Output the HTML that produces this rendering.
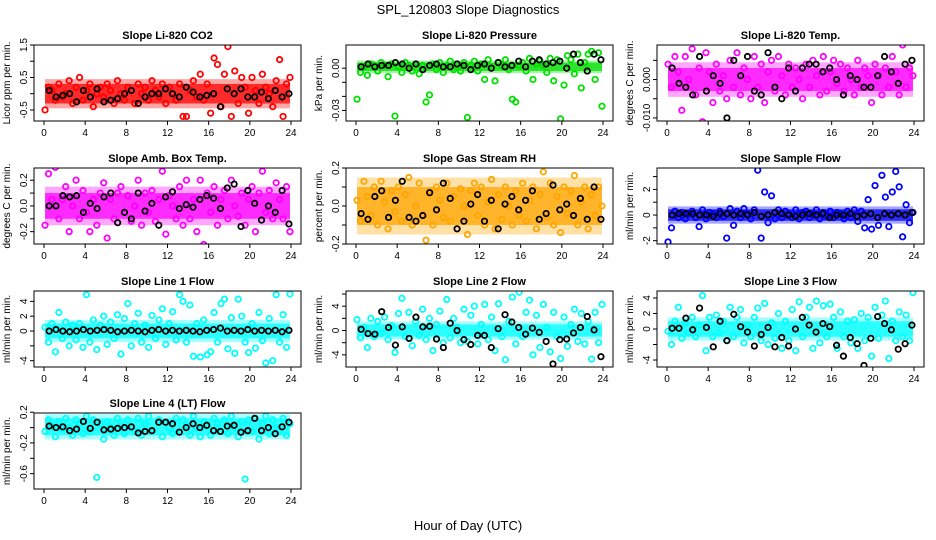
<!DOCTYPE html>
<html><head><meta charset="utf-8"><style>
body{margin:0;background:#fff;}
svg{display:block;font-family:"Liberation Sans",sans-serif;}
</style></head><body>
<svg id="c" width="936" height="540" viewBox="0 0 936 540" xmlns="http://www.w3.org/2000/svg">
<rect width="936" height="540" fill="#fff"/>
<text x="468" y="14" text-anchor="middle" font-size="13">SPL_120803  Slope Diagnostics</text>
<text x="468" y="530" text-anchor="middle" font-size="13">Hour of Day (UTC)</text>
</svg>
<script>
const xTicks = [0,4,8,12,16,20,24];
const titles = ["Slope Li-820 CO2","Slope Li-820 Pressure","Slope Li-820 Temp.","Slope Amb. Box Temp.","Slope Gas Stream RH","Slope Sample Flow","Slope Line 1 Flow","Slope Line 2 Flow","Slope Line 3 Flow","Slope Line 4 (LT) Flow"];
const yTitles = ["Licor ppm per min.","kPa per min.","degrees C per min.","degrees C per min.","percent per min.","ml/min per min.","ml/min per min.","ml/min per min.","ml/min per min.","ml/min per min."];
const yRanges = [[-0.84,1.5],[-0.0375,0.0165],[-0.0108,0.009],[-0.296,0.295],[-0.2,0.2],[-2.26,3.67],[-4.85,5.4],[-6,6.5],[-4.9,4.9],[-0.8,0.19]];
const yTickVals = [[-0.5,0,0.5,1,1.5],[-0.03,-0.02,-0.01,0],[-0.01,-0.005,0,0.005],[-0.2,-0.1,0,0.1,0.2],[-0.2,-0.1,0,0.1,0.2],[-2,-1,0,1,2,3],[-4,-2,0,2,4],[-4,-2,0,2,4,6],[-4,-2,0,2,4],[-0.6,-0.4,-0.2,0,0.2]];
const yTickLabels = [["-0.5","","0.5","","1.5"],["-0.03","","","0.00"],["-0.010","","0.000",""],["-0.2","","0.0","","0.2"],["-0.2","","0.0","","0.2"],["-2","","0","","2",""],["-4","","0","2","4"],["-4","","0","","4",""],["-4","","0","2","4"],["-0.6","","-0.2","","0.2"]];
const bands = [[-0.3,0.3],[-0.002,0.004],[-0.003,0.003],[-0.1,0.1],[-0.1,0.1],[-0.45,0.45],[-1,1],[-1,1],[-1,1],[-0.1,0.12]];
const colors = ["#ff0000","#00e000","#ff00ff","#ff00ff","#ffa500","#0000ff","#00ffff","#00ffff","#00ffff","#00ffff"];

const s1 = [-0.5,0.2,0.1,-0.2,0.3,-0.1,0.0,0.4,-0.3,0.2,0.5,-0.2,0.1,0.3,-0.4,0.0,0.2,-0.1,0.3,0.1,-0.3,0.4,0.0,-0.2,0.2,0.1,-0.3,0.3,0.0,0.2,-0.2,0.4,0.1,-0.1,0.3,-0.3,0.2,0.0,-0.2,0.3,-0.7,-0.7,0.1,0.4,-0.1,0.6,-0.2,0.3,-0.6,1.1,0.9,-0.4,0.6,1.45,-0.7,0.7,-0.3,0.5,0.2,-0.6,0.5,0.1,-0.3,0.6,0.2,0.0,-0.4,0.4,1.05,-0.7,0.3,0.5];
const k1 = [0.1,-0.1,-0.05,0.0,-0.25,0.1,-0.1,0.15,-0.25,-0.2,-0.15,0.0,0.1,-0.3,-0.1,0.0,0.0,0.15,0.0,-0.1,0.2,0.05,-0.1,-0.05,0.0,-0.4,0.15,0.0,0.15,-0.1,-0.1,0.05,-0.15,0.1,-0.1,0.0];
const s2 = [-0.022,-0.003,0.001,-0.005,0.003,0.002,-0.002,0.004,0.002,-0.006,0.003,-0.034,0.001,-0.003,0.004,0.002,-0.002,0.003,-0.004,0.002,-0.024,-0.019,0.003,-0.001,0.004,-0.003,0.002,0.005,-0.001,0.003,-0.002,0.004,-0.035,0.002,0.005,-0.002,0.003,-0.008,0.006,0.001,-0.009,0.004,0.002,0.006,-0.001,-0.022,-0.024,0.002,0.004,-0.002,0.007,-0.008,0.003,0.005,0.002,-0.003,0.007,-0.009,0.006,-0.036,-0.012,0.009,0.006,-0.004,0.010,-0.014,0.004,0.010,0.012,-0.008,0.011,-0.027];
const k2 = [0.001,0.003,0.001,0.002,0.002,0.004,0.003,0.000,0.003,-0.001,0.002,0.003,0.001,0.001,0.003,0.002,-0.001,0.002,0.003,0.000,0.004,0.001,0.002,0.005,0.001,0.005,0.006,0.003,0.004,0.005,0.000,0.010,0.004,-0.002,0.010,0.006];
const s3 = [0.004,-0.002,0.006,0.002,-0.008,0.006,0.000,0.008,-0.004,0.003,-0.011,0.007,0.002,-0.006,0.004,-0.003,0.001,-0.005,0.005,-0.002,0.007,-0.004,0.003,0.000,-0.005,0.006,-0.002,0.004,-0.006,0.002,0.005,-0.003,0.006,0.001,-0.004,0.004,-0.002,0.003,0.000,-0.005,0.004,-0.002,0.005,0.001,-0.004,0.006,-0.003,0.002,0.005,-0.001,0.004,-0.003,0.003,0.000,-0.004,0.005,-0.002,0.003,0.001,-0.006,0.004,0.001,-0.004,0.003,-0.002,0.006,0.002,-0.004,0.009,-0.002,0.003,0.001];
const k3 = [0.003,-0.001,-0.002,-0.004,0.006,-0.003,0.001,-0.001,-0.010,0.005,0.001,0.006,-0.003,-0.004,0.007,-0.002,-0.005,0.003,-0.003,0.003,0.004,0.004,0.002,0.003,0.000,-0.004,0.001,0.000,-0.002,-0.002,0.001,0.006,0.002,-0.001,0.004,0.005];
const s4 = [-0.15,0.25,0.05,0.3,-0.1,0.05,0.15,-0.2,0.0,0.2,-0.1,0.12,-0.05,-0.2,0.05,-0.15,0.1,0.18,-0.25,0.05,-0.1,0.1,0.15,-0.05,0.08,-0.12,0.0,0.2,-0.15,0.1,-0.05,0.12,-0.12,0.05,0.27,-0.22,0.08,0.0,-0.1,0.15,-0.15,0.2,-0.1,0.05,-0.2,0.2,-0.3,0.1,-0.05,0.15,-0.15,0.05,0.12,-0.1,0.2,0.0,-0.08,0.1,-0.15,0.05,0.15,-0.2,0.1,0.27,-0.05,0.12,-0.1,0.18,0.05,-0.1,0.15,-0.2];
const k4 = [0.0,0.0,0.08,0.07,0.08,-0.05,0.02,-0.02,0.07,0.1,-0.13,-0.05,-0.1,0.1,-0.04,0.02,-0.15,0.07,0.11,-0.02,0.01,-0.01,0.05,0.08,0.06,-0.02,0.14,0.17,-0.16,0.12,0.02,-0.11,0.0,-0.05,0.12,-0.14];
const s5 = [0.03,-0.08,0.13,0.05,-0.05,0.1,-0.1,0.13,0.02,-0.12,0.08,-0.03,0.1,-0.08,0.06,0.15,-0.1,0.0,0.12,-0.05,-0.18,0.08,-0.1,0.1,0.03,-0.06,0.12,-0.08,0.05,-0.12,0.09,0.0,-0.15,0.08,0.12,-0.05,0.1,-0.1,0.02,0.14,-0.12,0.06,-0.07,0.1,0.0,-0.1,0.08,-0.05,0.12,-0.08,0.03,0.1,-0.12,0.06,0.18,-0.06,0.12,-0.1,0.05,-0.14,0.1,-0.04,0.08,0.16,-0.1,0.02,0.1,-0.12,0.06,-0.05,0.1,0.0];
const k5 = [-0.04,-0.07,0.05,0.08,-0.06,0.03,0.13,-0.06,-0.08,-0.05,0.07,-0.02,0.12,0.04,-0.12,-0.08,0.01,0.06,-0.08,0.03,-0.12,0.01,0.05,-0.02,0.03,0.08,-0.07,-0.04,0.11,-0.02,0.01,-0.05,0.04,-0.07,0.1,-0.07];
const s6 = [-2.1,-1.0,0.3,-0.2,0.2,-0.3,0.1,0.3,-0.2,-0.9,0.4,-0.3,0.2,0.1,-0.2,0.3,-0.1,-1.8,0.5,-0.8,0.3,-0.2,0.5,0.1,-0.3,0.4,3.5,-1.8,1.8,-0.6,1.5,-0.3,0.4,-0.2,0.3,0.1,-0.2,0.4,-0.3,0.2,0.3,-0.2,0.1,0.4,-0.3,0.2,-0.1,0.3,-0.2,0.2,0.1,-0.3,0.3,-0.2,0.4,-0.5,0.3,-1.0,1.2,-1.1,2.3,-0.8,3.1,1.4,-0.9,1.8,3.4,2.2,-1.7,0.8,-0.6,0.2];
const k6 = [0.0,0.1,0.1,0.1,0.0,0.0,-0.1,0.1,0.1,0.0,0.1,0.0,0.2,-0.1,0.0,0.2,0.1,0.0,-0.1,0.0,0.1,0.0,0.1,-0.2,0.0,0.0,0.1,-0.1,0.0,0.1,-0.2,0.1,0.0,0.1,0.0,0.2];
const s7 = [0.5,-1.5,1.0,-2.8,2.5,-1.0,1.2,-2.0,0.8,-1.2,1.0,-2.2,4.9,-1.5,1.5,-2.5,0.8,2.0,-1.8,1.2,-1.0,2.2,-3.1,1.7,3.7,-2.0,1.0,2.4,-1.5,0.8,-2.2,2.1,-1.0,1.5,3.0,-1.8,1.0,2.6,-1.2,4.9,4.0,-1.5,3.5,-3.4,1.0,-3.5,1.5,-3.2,-2.8,2.5,-1.5,3.7,4.3,-2.4,1.8,-3.0,4.3,2.0,-1.5,-2.9,1.0,-2.3,2.5,-1.3,-4.3,1.7,-4.0,4.9,-1.5,2.2,-2.2,5.0];
const k7 = [0.0,0.2,0.0,-0.1,0.0,0.2,0.0,0.1,0.2,0.1,-0.1,0.0,0.1,0.0,-0.1,0.1,0.2,0.0,0.1,0.0,0.1,0.0,-0.1,0.1,0.2,0.4,0.0,0.1,0.0,0.2,0.0,0.1,0.0,0.1,-0.1,0.1];
const k8 = [0.2,-0.5,-0.6,3.1,0.5,-2.4,0.6,-1.3,2.2,0.6,0.7,-1.4,-2.8,1.2,0.0,-1.5,-2.3,-0.8,-0.8,-2.8,0.3,2.6,1.4,0.5,-0.6,0.4,-0.3,-1.8,-5.5,-1.5,-1.4,-0.4,0.5,2.3,0.1,-4.3];
const s8 = [1.8,-1.2,0.5,-2.8,2.0,-1.0,1.5,-0.5,2.2,-1.5,0.8,-3.6,2.8,5.3,-1.0,3.0,-2.5,1.5,-0.8,3.5,-1.5,2.0,-3.3,1.0,3.2,-2.0,5.1,-1.2,2.0,0.5,-2.0,3.5,-1.8,2.5,4.0,-2.2,1.0,4.3,-1.5,2.2,-3.3,4.4,-1.0,-4.8,1.5,5.5,-2.2,6.3,-1.0,3.0,5.0,-4.0,2.5,-2.8,4.3,0.5,-3.5,3.0,-1.0,-4.6,2.2,-2.6,1.0,3.5,-1.8,2.8,-2.2,1.5,-4.7,3.0,-2.0,4.3];
const s9 = [-0.3,-2.0,1.0,2.8,-1.2,0.8,-0.5,1.5,-1.0,0.5,4.3,-2.8,1.5,-1.0,1.8,-0.5,1.0,-1.5,2.8,-1.0,1.5,2.5,-1.8,0.5,-1.0,1.5,2.7,-1.5,3.3,-2.0,0.8,-1.2,2.0,-2.5,1.0,-1.5,2.5,-2.8,3.5,-1.0,1.5,2.8,-2.5,3.6,-1.8,3.0,-1.0,3.2,1.5,-2.5,2.2,-1.0,1.0,-1.8,1.2,-2.5,2.0,-1.5,1.5,-3.5,2.8,-1.2,1.8,3.6,-3.8,1.0,-1.5,2.2,-1.0,1.8,-1.5,4.7];
const k9 = [0.1,0.1,1.4,-0.1,2.7,0.2,-2.3,1.0,-1.5,1.9,0.3,-0.4,-2.2,-0.7,0.2,-2.3,-1.1,-2.2,0.0,1.5,0.5,-0.4,0.7,0.3,-2.1,-3.5,-1.1,-1.9,-4.7,-1.2,1.6,0.7,-0.1,-2.6,-1.9,0.5];
const s10 = [-0.05,0.1,0.02,-0.12,0.08,-0.02,0.12,0.0,-0.1,0.1,0.05,-0.08,0.15,-0.05,0.1,-0.65,0.05,-0.15,0.08,0.0,-0.1,0.12,0.03,-0.08,0.1,0.0,-0.05,0.12,-0.1,0.05,0.15,-0.05,-0.85,0.1,-0.12,0.06,0.0,-0.08,0.12,-0.05,0.1,0.03,-0.1,0.15,0.0,-0.12,0.08,0.02,-0.1,0.12,0.05,-0.05,0.1,-0.08,0.15,0.0,-0.12,0.08,-0.67,0.1,-0.05,0.12,-0.15,0.05,0.15,-0.08,0.1,0.0,-0.05,0.12,-0.1,0.05];
const k10 = [0.02,0.0,0.01,-0.04,-0.02,0.08,-0.01,0.07,-0.03,-0.02,-0.01,0.0,0.01,-0.07,-0.05,-0.04,0.07,0.07,0.05,-0.06,0.0,0.05,0.0,0.03,-0.04,-0.05,0.02,0.03,-0.06,-0.04,0.12,-0.04,0.0,-0.08,0.01,0.07];
const seriesColored = [s1,s2,s3,s4,s5,s6,s7,s8,s9,s10];
const seriesBlack = [k1,k2,k3,k4,k5,k6,k7,k8,k9,k10];

const NS = "http://www.w3.org/2000/svg";
const svg = document.getElementById('c');
const colLeft = [34,346,657], rowTop = [45,168,291,413], W = 267, H = 76;
function mk(tag, attrs, parent){const e=document.createElementNS(NS,tag);for(const k in attrs)e.setAttribute(k,attrs[k]);(parent||svg).appendChild(e);return e;}

for (let p=0;p<10;p++){
  const L = colLeft[p%3], T = rowTop[Math.floor(p/3)];
  const [y0,y1] = yRanges[p];
  const sx = h => L+10+(W-20)*h/24;
  const sy = v => T+H-(v-y0)/(y1-y0)*H;
  const g = mk('g',{});
  
  
  const cp = mk('clipPath',{id:'cp'+p},g);
  mk('rect',{x:L,y:T,width:W,height:H},cp);
  const plot = mk('g',{'clip-path':'url(#cp'+p+')'},g);
  const b = bands[p];
  const pad = (b[1]-b[0])*0.25;
  const halo = mk('rect',{x:sx(0.1),y:sy(b[1]+pad),width:sx(23.9)-sx(0.1),height:sy(b[0]-pad)-sy(b[1]+pad),fill:colors[p],opacity:0.35},plot);
  
  
  const band = mk('rect',{x:sx(0.1),y:sy(b[1]),width:sx(23.9)-sx(0.1),height:sy(b[0])-sy(b[1]),fill:colors[p],opacity:0.75},plot);
  
  
  const sc = seriesColored[p];
  sc.forEach((v,i)=>{
    const c = mk('circle',{cx:sx(0.1+23.8*i/(sc.length-1)),cy:sy(v),r:2.7,fill:'none',stroke:colors[p],'stroke-width':1.8},plot);
    
    
  });
  const sb = seriesBlack[p];
  sb.forEach((v,i)=>{
    const c = mk('circle',{cx:sx(0.5+23.3*i/(sb.length-1)),cy:sy(v),r:2.7,fill:'none',stroke:'#000','stroke-width':1.8},plot);
    
    
  });
  const box = mk('rect',{x:L,y:T,width:W,height:H,fill:'none',stroke:'#000','stroke-width':1},g);
  
  
  const t = mk('text',{x:L+W/2,y:T-6,'text-anchor':'middle','font-size':11,'font-weight':'bold'},g);
  t.textContent = titles[p];
  
  
  const yt = mk('text',{x:0,y:0,'text-anchor':'middle','font-size':10,transform:`translate(${L-24},${T+H/2}) rotate(-90)`},g);
  yt.textContent = yTitles[p];
  
  
  xTicks.forEach(h=>{
    mk('line',{x1:sx(h),x2:sx(h),y1:T+H,y2:T+H+4,stroke:'#000'},g);
    const lt = mk('text',{x:sx(h),y:T+H+15,'text-anchor':'middle','font-size':10},g);
    lt.textContent = h;
    
    
  });
  yTickVals[p].forEach((v,i)=>{
    const y = sy(v);
    mk('line',{x1:L-4,x2:L,y1:y,y2:y,stroke:'#000'},g);
    if (yTickLabels[p][i]){
      const lt = mk('text',{x:0,y:0,'text-anchor':'middle','font-size':10,transform:`translate(${L-7},${y}) rotate(-90)`},g);
      lt.textContent = yTickLabels[p][i];
      
      
    }
  });
}
</script>
</body></html>
